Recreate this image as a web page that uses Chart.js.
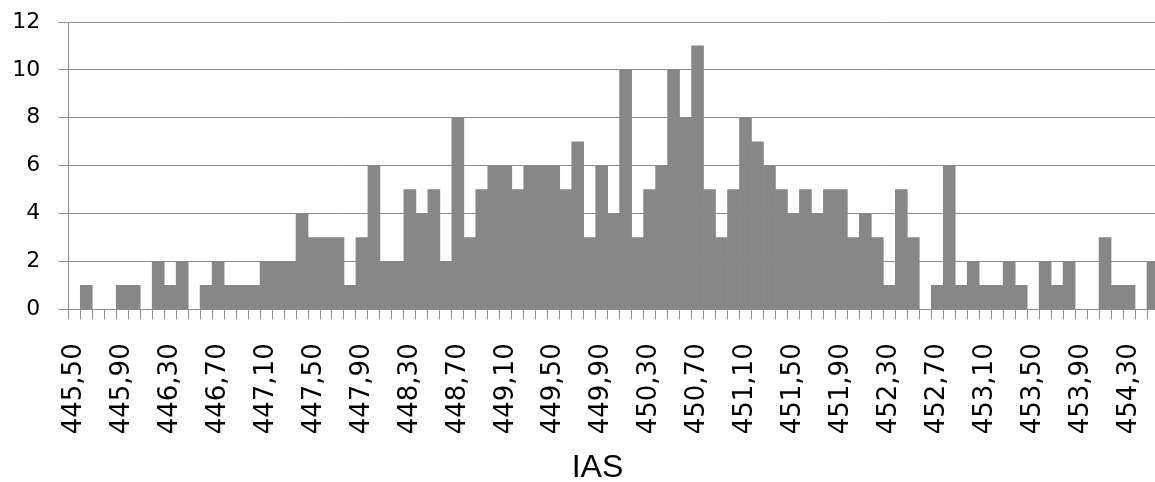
<!DOCTYPE html>
<html>
<head>
<meta charset="utf-8">
<script src="https://cdn.jsdelivr.net/npm/chart.js@4.4.1/dist/chart.umd.min.js"></script>
<style>
  html, body { margin: 0; padding: 0; overflow: hidden; background: #fff; }
  #wrap { width: 1159px; height: 482px; position: relative; }
</style>
</head>
<body>
<div id="wrap"><canvas id="myChart"></canvas></div>
<script>
// categorias (IAS)
const categories = [
  "445,50", "445,60", "445,70", "445,80", "445,90", "446,00", "446,10", "446,20", "446,30", "446,40",
  "446,50", "446,60", "446,70", "446,80", "446,90", "447,00", "447,10", "447,20", "447,30", "447,40",
  "447,50", "447,60", "447,70", "447,80", "447,90", "448,00", "448,10", "448,20", "448,30", "448,40",
  "448,50", "448,60", "448,70", "448,80", "448,90", "449,00", "449,10", "449,20", "449,30", "449,40",
  "449,50", "449,60", "449,70", "449,80", "449,90", "450,00", "450,10", "450,20", "450,30", "450,40",
  "450,50", "450,60", "450,70", "450,80", "450,90", "451,00", "451,10", "451,20", "451,30", "451,40",
  "451,50", "451,60", "451,70", "451,80", "451,90", "452,00", "452,10", "452,20", "452,30", "452,40",
  "452,50", "452,60", "452,70", "452,80", "452,90", "453,00", "453,10", "453,20", "453,30", "453,40",
  "453,50", "453,60", "453,70", "453,80", "453,90", "454,00", "454,10", "454,20", "454,30", "454,40",
  "454,50"
];

// frecuencias
const counts = [
  0, 1, 0, 0, 1, 1, 0, 2, 1, 2,
  0, 1, 2, 1, 1, 1, 2, 2, 2, 4,
  3, 3, 3, 1, 3, 6, 2, 2, 5, 4,
  5, 2, 8, 3, 5, 6, 6, 5, 6, 6,
  6, 5, 7, 3, 6, 4, 10, 3, 5, 6,
  10, 8, 11, 5, 3, 5, 8, 7, 6, 5,
  4, 5, 4, 5, 5, 3, 4, 3, 1, 5,
  3, 0, 1, 6, 1, 2, 1, 1, 2, 1,
  0, 2, 1, 2, 0, 0, 3, 1, 1, 0,
  2
];

// ticks eje y
const yTicks = [0, 2, 4, 6, 8, 10, 12];
const labelEvery = 4;
const xTitle = "IAS";

const gridColor = "#8e8e8e";
const barColor = "#878787";

// titulo del eje x (el grafico original esta recortado a la derecha)
const axisTitle = {
  id: "axisTitle",
  afterDraw(chart) {
    const c = chart.ctx;
    c.save();
    c.fillStyle = "#000";
    c.font = "32px 'Liberation Sans'";
    c.textAlign = "center";
    c.textBaseline = "alphabetic";
    c.fillText(xTitle, 597.5, 477);
    c.restore();
  },
};

const ctx = document.getElementById("myChart").getContext("2d");

const chart = new Chart(ctx, {
  type: "bar",
  data: {
    labels: categories,
    datasets: [
      {
        data: counts,
        backgroundColor: barColor,
        borderWidth: 0,
        barPercentage: 1,
        categoryPercentage: 1,
      },
    ],
  },
  options: {
    responsive: true,
    maintainAspectRatio: false,
    animation: false,
    layout: { padding: { top: 22, left: 0, right: 0, bottom: 0 } },
    plugins: {
      legend: { display: false },
      tooltip: { enabled: false },
    },
    scales: {
      x: {
        grid: {
          offset: true,
          drawOnChartArea: false,
          drawTicks: true,
          tickLength: 10,
          color: gridColor,
        },
        border: { color: gridColor },
        ticks: {
          autoSkip: false,
          maxRotation: 90,
          minRotation: 90,
          padding: 24,
          color: "#000",
          font: { family: "DejaVu Sans", size: 26 },
          callback: (v, i) => (i % labelEvery === 0 ? categories[i] : ""),
        },
        afterFit: (scale) => {
          scale.height = 172.7;
          scale.paddingLeft = 0;
          scale.paddingRight = 0;
        },
      },
      y: {
        min: yTicks[0],
        max: yTicks[yTicks.length - 1],
        grid: { color: gridColor, tickLength: 10 },
        border: { color: gridColor },
        ticks: {
          stepSize: 2,
          padding: 18,
          color: "#000",
          font: { family: "DejaVu Sans", size: 22 },
        },
        afterFit: (scale) => {
          scale.width = 68.3;
          scale.paddingTop = 0;
          scale.paddingBottom = 0;
        },
      },
    },
  },
  plugins: [axisTitle],
});
</script>
</body>
</html>
